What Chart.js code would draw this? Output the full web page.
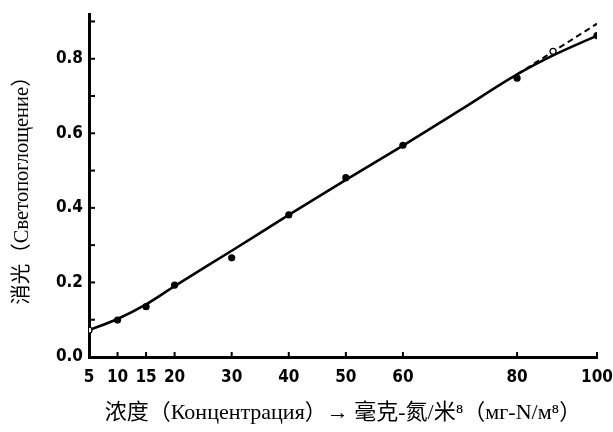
<!DOCTYPE html>
<html>
<head>
<meta charset="utf-8">
<script src="https://cdn.jsdelivr.net/npm/chart.js@4/dist/chart.umd.min.js"></script>
<style>
  html, body { margin: 0; padding: 0; background: #fff; }
  #wrap { width: 613px; height: 432px; position: relative; }
</style>
</head>
<body>
<div id="wrap"><canvas id="c" width="613" height="432"></canvas></div>
<script>
// ---- data ----
const xTickLabels = [5, 10, 15, 20, 30, 40, 50, 60, 80, 100];
const yTickValues = [0, 0.1, 0.2, 0.3, 0.4, 0.5, 0.6, 0.7, 0.8, 0.9];

// measured points (filled dots)
const measuredConc = [10, 15, 20, 30, 40, 50, 60, 80, 100];
const measuredExt  = [0.099, 0.135, 0.193, 0.266, 0.381, 0.481, 0.568, 0.748, 0.862];

// open circles
const openConc = [5, 89];
const openExt  = [0.072, 0.82];

// fitted (solid) curve
const curveConc = [5, 10, 15, 20, 30, 40, 50, 60, 70, 80, 89, 100];
const curveExt  = [0.072, 0.102, 0.141, 0.19, 0.285, 0.381, 0.475, 0.567, 0.662, 0.758, 0.809, 0.862];

// dashed straight extension
const dashConc = [80, 100];
const dashExt  = [0.758, 0.894];

const xTitle = '浓度（Концентрация）→ 毫克-氮/米⁸（мг-N/м⁸）';
const yTitle = '消光（Светопоглощение）';

// The printed concentration axis is compressed above 80.
function warp(c) { return c <= 80 ? c : 80 + (c - 80) * 0.7; }
function pts(xs, ys) { return xs.map((c, i) => ({ x: warp(c), y: ys[i] })); }

const yTitleFont = { family: '"Liberation Serif", "Noto Sans CJK SC", serif', size: 20.5 };
const xTitleFont = { family: '"Liberation Serif", "Noto Sans CJK SC", serif', size: 22 };
const tickFont = { family: '"Liberation Sans Narrow", "DejaVu Sans Condensed", "Liberation Sans", sans-serif', size: 17, weight: 'bold' };

const inwardTicks = {
  id: 'inwardTicks',
  afterDraw(chart) {
    const { ctx, chartArea, scales } = chart;
    ctx.save();
    ctx.strokeStyle = '#000';
    ctx.lineWidth = 2;
    scales.y.ticks.forEach(t => {
      const py = scales.y.getPixelForValue(t.value);
      ctx.beginPath();
      ctx.moveTo(chartArea.left, py);
      ctx.lineTo(chartArea.left + 6, py);
      ctx.stroke();
    });
    scales.x.ticks.forEach(t => {
      const px = scales.x.getPixelForValue(t.value);
      ctx.beginPath();
      ctx.moveTo(px, chartArea.bottom);
      ctx.lineTo(px, chartArea.bottom - 5);
      ctx.stroke();
    });
    ctx.restore();
  }
};

new Chart(document.getElementById('c'), {
  type: 'scatter',
  data: {
    datasets: [
      {
        data: pts(curveConc, curveExt),
        showLine: true, borderColor: '#000', borderWidth: 2.6,
        pointRadius: 0, cubicInterpolationMode: 'monotone', order: 3
      },
      {
        data: pts(dashConc, dashExt),
        showLine: true, borderColor: '#000', borderWidth: 2, borderDash: [6, 4],
        pointRadius: 0, order: 4
      },
      {
        data: pts(measuredConc, measuredExt),
        showLine: false, pointRadius: 3.6, pointBackgroundColor: '#000',
        pointBorderColor: '#000', pointBorderWidth: 0, order: 1
      },
      {
        data: pts(openConc, openExt),
        showLine: false, pointRadius: 3, pointBackgroundColor: '#fff',
        pointBorderColor: '#000', pointBorderWidth: 1.3, order: 0
      }
    ]
  },
  options: {
    responsive: false,
    animation: false,
    layout: { padding: { top: 14, right: 16, left: 0, bottom: 0 } },
    plugins: { legend: { display: false }, tooltip: { enabled: false } },
    scales: {
      x: {
        type: 'linear',
        min: warp(5), max: warp(100),
        afterFit(s) { s.height = 75; s.paddingLeft = 0; s.paddingRight = 0; },
        afterBuildTicks(s) { s.ticks = xTickLabels.map(c => ({ value: warp(c) })); },
        ticks: {
          color: '#000', font: tickFont, padding: 10, maxRotation: 0, autoSkip: false,
          callback: (v, i) => String(xTickLabels[i])
        },
        grid: { display: true, drawOnChartArea: false, drawTicks: false },
        border: { display: true, color: '#000', width: 3 },
        title: { display: true, text: xTitle, color: '#000', font: xTitleFont, padding: { top: 0, bottom: 6 } }
      },
      y: {
        type: 'linear',
        min: 0, max: 0.92,
        afterFit(s) { s.width = 89; s.paddingTop = 0; s.paddingBottom = 0; },
        afterBuildTicks(s) { s.ticks = yTickValues.map(v => ({ value: v })); },
        ticks: {
          color: '#000', font: tickFont, padding: 6, autoSkip: false,
          callback: (v) => (Math.round(v * 10) % 2 === 0 && v < 0.85) ? v.toFixed(1) : ''
        },
        grid: { display: true, drawOnChartArea: false, drawTicks: false },
        border: { display: true, color: '#000', width: 3 },
        title: { display: true, text: yTitle, color: '#000', font: yTitleFont, padding: { top: 10, bottom: 0 } }
      }
    }
  },
  plugins: [inwardTicks]
});
</script>
</body>
</html>
